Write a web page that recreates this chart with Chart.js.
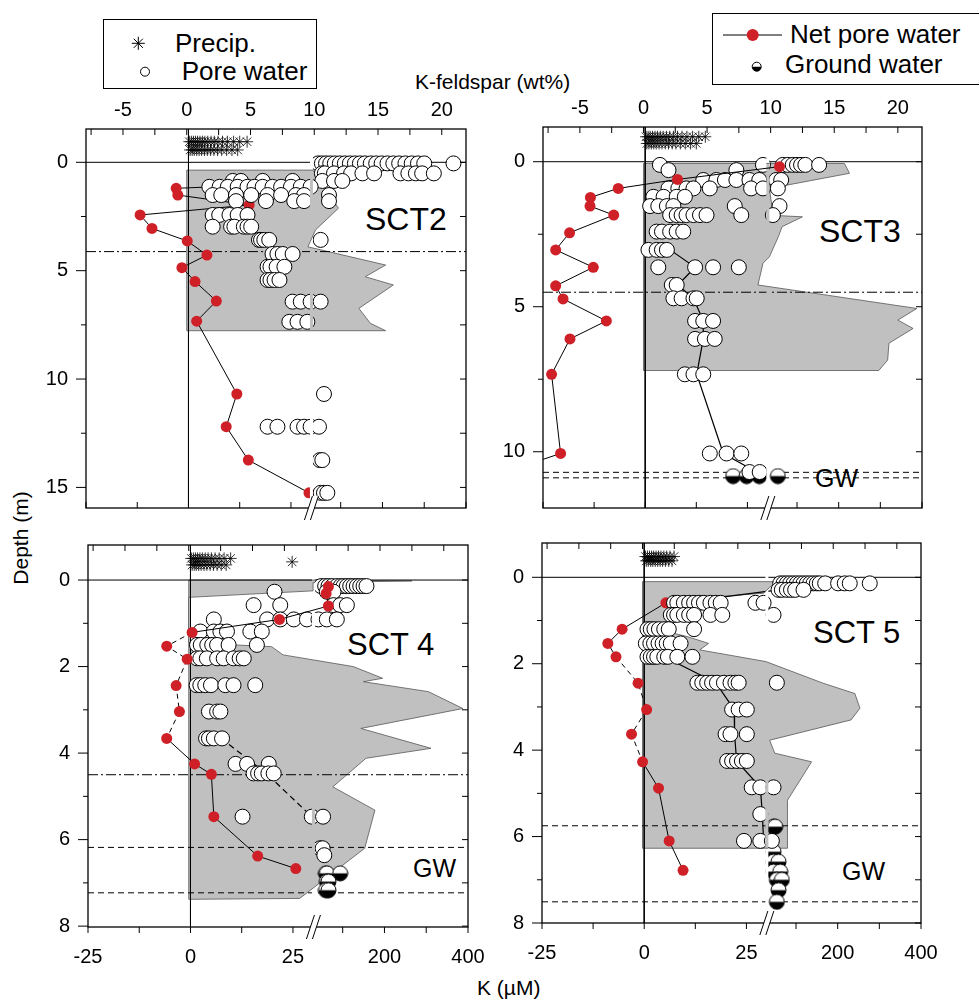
<!DOCTYPE html>
<html>
<head>
<meta charset="utf-8">
<script src="https://cdn.jsdelivr.net/npm/chart.js@4.4.1/dist/chart.umd.min.js"></script>
<style>
  html, body { margin: 0; padding: 0; background: #fff; }
  #fig { position: relative; width: 979px; height: 1000px; overflow: hidden;
         font-family: "Liberation Sans", Arial, sans-serif; color: #000; }
  #fig canvas { position: absolute; }
  .txt { position: absolute; white-space: nowrap; line-height: 1; }
  .box { position: absolute; border: 1.5px solid #000; box-sizing: border-box; }
  svg.mk { position: absolute; left: 0; top: 0; overflow: visible; }
</style>
</head>
<body>
<div id="fig">
  <!-- legends -->
  <div class="box" style="left:103px; top:19px; width:214px; height:70px;"></div>
  <div class="box" style="left:712px; top:13px; width:268px; height:72px;"></div>
  <svg class="mk" width="979" height="100">
    <g stroke="#000" stroke-width="1">
      <line x1="131.8" y1="43.3" x2="144.8" y2="43.3"/>
      <line x1="138.3" y1="36.8" x2="138.3" y2="49.8"/>
      <line x1="133.7" y1="38.7" x2="142.9" y2="47.9"/>
      <line x1="133.7" y1="47.9" x2="142.9" y2="38.7"/>
    </g>
    <circle cx="145" cy="71.7" r="4.5" fill="#fff" stroke="#000" stroke-width="1"/>
    <line x1="723" y1="35" x2="782" y2="35" stroke="#000" stroke-width="1"/>
    <circle cx="752.7" cy="35" r="6" fill="#cf2027"/>
    <circle cx="756.7" cy="66.7" r="4.5" fill="#fff" stroke="#000" stroke-width="1"/>
    <path d="M752.2 66.7 A4.5 4.5 0 0 0 761.2 66.7 Z" fill="#000"/>
  </svg>
  <div class="txt" style="left:175px; top:29.7px; font-size:26px;">Precip.</div>
  <div class="txt" style="left:181.7px; top:58px; font-size:26px;">Pore water</div>
  <div class="txt" style="left:790px; top:21.3px; font-size:26px;">Net pore water</div>
  <div class="txt" style="left:785px; top:51.3px; font-size:26px;">Ground water</div>

  <!-- axis titles -->
  <div class="txt" style="left:415px; top:71.2px; font-size:21px;">K-feldspar (wt%)</div>
  <div class="txt" style="left:477px; top:977.2px; font-size:21px;">K (µM)</div>
  <div class="txt" style="left:20px; top:538px; font-size:21px; transform:translate(-50%,-50%) rotate(-90deg);">Depth (m)</div>

  <!-- panel names -->
  <div class="txt" style="left:365px; top:203px; font-size:32px;">SCT2</div>
  <div class="txt" style="left:819px; top:214.6px; font-size:32px;">SCT3</div>
  <div class="txt" style="left:347px; top:628.8px; font-size:31px;">SCT 4</div>
  <div class="txt" style="left:813px; top:616.8px; font-size:31px;">SCT 5</div>
  <div class="txt" style="left:815px; top:465.5px; font-size:25px;">GW</div>
  <div class="txt" style="left:413px; top:855.5px; font-size:25px;">GW</div>
  <div class="txt" style="left:842px; top:858.8px; font-size:25px;">GW</div>
</div>
<script>
// ---------------- axis values ----------------
const kTicks = [-25, -12.5, 0, 12.5, 25, 100, 200, 300, 400];
const kTickLabels = ['-25', '', '0', '', '25', '', '200', '', '400'];
const wtTicks = [-7.5, -5, -2.5, 0, 2.5, 5, 7.5, 10, 12.5, 15, 17.5, 20];
const depthTicks2 = [0, 2.5, 5, 7.5, 10, 12.5, 15];
const depthTicks3 = [0, 2.5, 5, 7.5, 10];
const depthTicksShallow = [0, 1, 2, 3, 4, 5, 6, 7, 8];
const depthLabels2 = [0, 5, 10, 15];
const depthLabels3 = [0, 5, 10];
const depthLabelsShallow = [0, 2, 4, 6, 8];

// K axis is broken at 30 uM; above the break it is compressed up to 400 uM
const K_BREAK = 30, K_MAX = 400, U_PER_K_RIGHT = 0.1019;
const toU = k => (k <= K_BREAK ? k : K_BREAK + (k - K_BREAK) * U_PER_K_RIGHT);
const U_MAX = toU(K_MAX);

// ---------------- SCT2 ----------------
// [depth, K values]
const sct2Precip = [
  [-0.95, [0.2, 0.7, 1.2, 1.7, 2.2, 2.8, 3.4, 4.0, 4.7, 5.5, 6.3, 7.2, 8.3, 9.5, 11.0, 12.5, 14.3]],
  [-0.57, [0.4, 0.9, 1.4, 2.0, 2.6, 3.2, 3.9, 4.6, 5.4, 6.2, 7.1, 8.1, 9.3, 10.6, 12.0]]
];
const sct2Pore = [
  [0.05, [46, 55, 65, 75, 86, 98, 110, 122, 134, 146, 158, 172, 185, 198, 212, 226, 240, 255, 270, 285, 300, 370]],
  [0.51, [55, 62, 84, 108, 125, 152, 180, 243, 262, 280, 295, 323]],
  [0.86, [10.8, 12.8, 18.1, 25.4, 56, 84, 104]],
  [1.13, [5.1, 7.6, 9.6, 12, 14.4, 16.1, 18.1, 20.5, 22.6, 25, 27.4, 29.8]],
  [1.51, [5.9, 8, 11.6, 15.3, 19.3, 22.6, 26.2, 28.2, 72]],
  [1.79, [11.6, 18.9, 25.8, 28.2, 72]],
  [2.43, [5.9, 7.5, 10, 12, 14.4]],
  [2.97, [5.9, 10.4, 11.2, 13.5, 14.4, 15.3]],
  [3.58, [17.2, 17.7, 18.5, 19.7, 52]],
  [4.23, [20.5, 21.7, 23, 25.4]],
  [4.82, [19.3, 20, 21.5, 23.4]],
  [5.43, [19.3, 20, 21, 22.2]],
  [6.43, [25.4, 27.4, 29.8, 52]],
  [7.36, [24.6, 26.6, 29]],
  [10.69, [60]],
  [12.2, [19.3, 21.7, 26.6, 28.2, 29.8, 48]],
  [13.74, [50, 56]],
  [15.25, [52, 60, 68]]
];
const sct2Ground = [];
// [K, depth]
const sct2Net = [[6, 1.13], [-3, 1.2], [-2.6, 1.51], [14.8, 1.97], [-11.8, 2.43], [-8.9, 3.05], [-0.3, 3.63], [4.5, 4.28], [-1.6, 4.86], [1.6, 5.5], [6.8, 6.4], [2.0, 7.33], [11.8, 10.69], [9.2, 12.2], [14.6, 13.74], [29.4, 15.25]];
const sct2Mean = [];
// [wt%, depth]
const sct2Feldspar = [[0, 0.36], [9.9, 0.36], [11.9, 2.12], [10.1, 3.12], [9.5, 3.9], [15.6, 4.74], [14.0, 5.28], [16.2, 5.66], [13.5, 6.74], [14.4, 7.43], [15.6, 7.77], [0, 7.77]];
const sct2DashDot = [4.12];
const sct2Dashed = [];

// ---------------- SCT3 ----------------
const sct3Precip = [
  [-0.86, [0.2, 0.7, 1.2, 1.8, 2.4, 3.0, 3.7, 4.4, 5.2, 6.0, 6.9, 7.9, 9.0, 10.2, 11.6, 13.1, 14.7]],
  [-0.63, [0.4, 0.9, 1.5, 2.1, 2.7, 3.4, 4.1, 4.9, 5.7, 6.6, 7.5, 8.6, 9.8, 11.1, 12.5]]
];
const sct3Pore = [
  [0.11, [3.6, 28.8, 65.8, 78, 89.7, 100, 109.7, 120, 153]],
  [0.29, [5.7, 22.3]],
  [0.63, [14.2, 17.4, 19.5, 22.3, 25.5, 27.9, 50, 62]],
  [0.92, [5.7, 8.1, 10.1, 11.8, 15.8, 25.9, 28.8, 54]],
  [1.21, [2.0, 4.5, 7.7, 9.7]],
  [1.53, [1.2, 3.2, 5.3, 6.9, 21.9, 58]],
  [1.84, [6.1, 7.7, 8.9, 10.1, 11.8, 13.4, 15.0, 23.5, 42]],
  [2.41, [2.8, 4.1, 6.1, 7.7, 9.3]],
  [3.04, [0.8, 2.8, 4.1, 5.3]],
  [3.64, [3.2, 12.2, 16.6, 22.9]],
  [4.25, [6.5, 7.7]],
  [4.71, [6.9, 8.9, 11.8, 12.6]],
  [5.49, [12.2, 14.2, 16.6]],
  [6.11, [12.2, 14.6, 17.0]],
  [7.33, [9.7, 11.8, 14.2]],
  [10.06, [15.8, 19.9, 23.5]],
  [10.7, [25.5, 28]]
];
const sct3Ground = [[10.84, [21.5, 24.8, 27.9, 54]]];
const sct3Net = [[57.9, 0.17], [7.9, 0.61], [-6.6, 0.92], [-13.4, 1.23], [-13.5, 1.53], [-7.7, 1.84], [-18.5, 2.45], [-21.9, 3.04], [-12.7, 3.64], [-21.9, 4.28], [-20.1, 4.73], [-9.5, 5.49], [-18.4, 6.11], [-22.9, 7.33], [-20.7, 10.06], [-30, 10.5]];
const sct3Mean = [[[6.1, 3.04], [12.2, 3.64], [8, 4.25], [11.8, 4.71], [14.2, 5.49], [14.2, 6.11], [12.6, 7.33], [19.1, 10.06], [27.9, 10.75]]];
const sct3Feldspar = [[0, 0.06], [15.8, 0.06], [16.2, 0.4], [9.9, 0.92], [10.2, 1.85], [12.5, 1.9], [10.9, 2.24], [10.6, 2.59], [9.9, 3.28], [9.4, 3.5], [9.0, 4.25], [21.5, 5.06], [20.0, 5.46], [21.2, 5.75], [19.3, 6.26], [19.2, 6.84], [18.5, 7.2], [0, 7.2]];
const sct3DashDot = [4.5];
const sct3Dashed = [10.71, 10.9];

// ---------------- SCT4 ----------------
const sct4Precip = [
  [-0.5, [0.2, 0.7, 1.2, 1.7, 2.3, 2.9, 3.6, 4.3, 5.1, 6.0, 7.0, 8.2, 9.8]],
  [-0.42, [24.8]],
  [-0.35, [0.4, 0.9, 1.4, 2.0, 2.6, 3.3, 4.0, 4.8, 5.6, 6.5, 7.5, 8.7]]
];
const sct4Pore = [
  [0.14, [48, 58, 66, 75, 86, 95, 102, 110, 118, 126, 134, 142, 150, 157]],
  [0.27, [20.5, 62, 78]],
  [0.58, [15.4, 21.9, 78, 94, 110]],
  [0.91, [5.7, 18.7, 21.9, 25.2, 28.4, 42, 62, 86]],
  [1.19, [2.4, 5.7, 7.3, 8.9, 14.6, 17.4]],
  [1.5, [1.6, 2.5, 4.1, 5.3, 6.5, 9.3, 16.2]],
  [1.81, [1.6, 2.4, 4, 6.5, 8.1, 10.5, 12, 13]],
  [2.43, [1.5, 2.4, 3.6, 5, 8.5, 10.5, 15.8]],
  [3.04, [4.5, 6.5, 7.3]],
  [3.66, [3.8, 4.5, 5.7, 7.7]],
  [4.25, [11, 13.8, 19.1]],
  [4.47, [15.4, 16.5, 17.4, 19, 20.3]],
  [5.47, [12.7, 29.6, 53]],
  [6.2, [46, 52]],
  [6.36, [56]]
];
const sct4Ground = [[6.78, [60, 62, 94]], [6.97, [62, 66]], [7.17, [60, 66]]];
const sct4Net = [[65.8, 0.15], [60.3, 0.31], [65.8, 0.6], [21.7, 0.91], [0.4, 1.21], [-5.8, 1.53], [-0.8, 1.83], [-3.5, 2.44], [-2.7, 3.04], [-5.8, 3.66], [1.0, 4.25], [5.1, 4.49], [5.7, 5.47], [16.4, 6.38], [25.7, 6.67]];
const sct4Mean = [[[7.5, 3.66], [18.5, 4.47], [29.6, 5.47]]];
const sct4Feldspar = [[0, 0], [9.75, 0], [17.5, 0.02], [9.75, 0.06], [9.75, 0.25], [0, 0.4], [0, 1.45], [6.5, 1.54], [7.4, 1.73], [12.9, 2.0], [15.2, 2.27], [13.7, 2.35], [18.8, 2.58], [21.5, 2.97], [13.5, 3.43], [19.0, 3.89], [13.9, 4.12], [11.3, 4.78], [14.6, 5.32], [13.8, 6.2], [8.7, 7.36], [0, 7.38]];
const sct4DashDot = [4.5];
const sct4Dashed = [6.18, 7.23];

// ---------------- SCT5 ----------------
const sct5Precip = [
  [-0.48, [0.3, 0.8, 1.3, 1.8, 2.3, 2.9, 3.5, 4.1, 4.8, 5.5, 6.3, 7.3]],
  [-0.38, [0.5, 1.0, 1.6, 2.1, 2.7, 3.3, 3.9, 4.5, 5.2, 6.0, 6.8]]
];
const sct5Pore = [
  [0.14, [62, 70, 78, 86, 94, 102, 110, 118, 126, 134, 142, 150, 157, 170, 201, 217, 229, 277]],
  [0.29, [58, 66, 78, 88, 98, 118]],
  [0.59, [7.3, 8.1, 9.7, 11, 12.2, 13.4, 14.6, 16.2, 17.5, 18.7, 27.2, 29.2]],
  [0.87, [6.5, 7.3, 8.1, 9.7, 11, 12.2, 16.2, 19.1, 46]],
  [1.2, [0.8, 1.6, 2.5, 3.6, 4.9, 6, 12.2]],
  [1.53, [0.4, 1.5, 2.4, 3.5, 4.5, 5.5, 6.5, 8.9]],
  [1.84, [0.8, 1.6, 2.4, 3.2, 4.9, 5.8, 8.1, 11.8]],
  [2.44, [13, 14.2, 15.4, 16.6, 17.8, 19.5, 21.1, 22.3, 23.1, 54]],
  [3.06, [21.5, 23.1, 25.1]],
  [3.63, [19.9, 21.1, 25.1]],
  [4.25, [20.3, 21.5, 22.7, 23.9, 25.1]],
  [4.86, [26.3, 28.4, 46]],
  [5.48, [28.4]],
  [6.1, [24.4, 28.4, 42]]
];
const sct5Ground = [[5.77, [46, 50]], [6.35, [46]], [6.58, [46, 58]], [6.81, [46, 62]], [7.0, [54, 66]], [7.24, [58]], [7.51, [54]]];
const sct5Net = [[5.3, 0.59], [-5.4, 1.2], [-8.9, 1.53], [-6.9, 1.84], [-1.5, 2.45], [0.6, 3.06], [-3.1, 3.63], [-0.4, 4.27], [3.5, 4.88], [6.1, 6.1], [9.5, 6.78]];
const sct5Mean = [
  [[8.1, 0.59], [58, 0.29]],
  [[4.9, 1.84], [17.5, 2.44], [22, 3.06], [22.1, 3.63], [22.6, 4.25], [28.4, 4.86], [28.9, 5.48], [29.2, 6.1]]
];
const sct5Feldspar = [[0, 0.1], [10.5, 0.1], [9.5, 0.37], [2.0, 0.53], [2.5, 1.3], [3.5, 1.37], [5.2, 1.53], [4.5, 1.68], [9.7, 1.95], [14.2, 2.45], [16.7, 2.69], [17.1, 3.03], [16.4, 3.3], [10.0, 3.77], [10.4, 4.07], [13.3, 4.27], [11.4, 5.16], [11.4, 6.27], [0, 6.27]];
const sct5DashDot = [];
const sct5Dashed = [5.75, 7.51];

// ---------------- layout ----------------
const RED = '#cf2027';
const M = { l: 70, t: 50, r: 25, b: 50 };   // canvas margins around each plot
const panels = [
  { left: 86, top: 129, w: 380, h: 379, yMin: -1.537, yMax: 15.95, yTicks: depthTicks2, yLabels: depthLabels2,
    topLabels: true, bottomLabels: false, netOnTop: false, netDash: null, meanDash: false,
    precip: sct2Precip, pore: sct2Pore, ground: sct2Ground, net: sct2Net,
    mean: sct2Mean, feldspar: sct2Feldspar, dashDot: sct2DashDot, dashed: sct2Dashed },
  { left: 543, top: 127, w: 379, h: 381, yMin: -1.197, yMax: 11.94, yTicks: depthTicks3, yLabels: depthLabels3,
    topLabels: true, bottomLabels: false, netOnTop: true, netDash: null, meanDash: false,
    precip: sct3Precip, pore: sct3Pore, ground: sct3Ground, net: sct3Net,
    mean: sct3Mean, feldspar: sct3Feldspar, dashDot: sct3DashDot, dashed: sct3Dashed },
  { left: 88, top: 545, w: 380, h: 382, yMin: -0.81, yMax: 8.02, yTicks: depthTicksShallow, yLabels: depthLabelsShallow,
    topLabels: false, bottomLabels: true, netOnTop: true, netDash: [4, 8], meanDash: true,
    precip: sct4Precip, pore: sct4Pore, ground: sct4Ground, net: sct4Net,
    mean: sct4Mean, feldspar: sct4Feldspar, dashDot: sct4DashDot, dashed: sct4Dashed },
  { left: 542, top: 543, w: 379, h: 380, yMin: -0.794, yMax: 8.0, yTicks: depthTicksShallow, yLabels: depthLabelsShallow,
    topLabels: false, bottomLabels: true, netOnTop: false, netDash: [3, 6], meanDash: false,
    precip: sct5Precip, pore: sct5Pore, ground: sct5Ground, net: sct5Net,
    mean: sct5Mean, feldspar: sct5Feldspar, dashDot: sct5DashDot, dashed: sct5Dashed }
];

Chart.defaults.font.family = '"Liberation Sans", Arial, sans-serif';
Chart.defaults.font.size = 20;
Chart.defaults.color = '#000';

// half-filled marker for ground water
function halfDot(r) {
  const s = Math.ceil(r * 2 + 2);
  const c = document.createElement('canvas');
  c.width = c.height = s;
  const g = c.getContext('2d');
  const m = s / 2;
  g.beginPath(); g.arc(m, m, r, 0, Math.PI * 2); g.fillStyle = '#fff'; g.fill();
  g.beginPath(); g.arc(m, m, r, 0, Math.PI); g.closePath(); g.fillStyle = '#000'; g.fill();
  g.beginPath(); g.arc(m, m, r, 0, Math.PI * 2); g.lineWidth = 1; g.strokeStyle = '#000'; g.stroke();
  return c;
}
const gwMarker = halfDot(7.5);

const rowsToPoints = rows => rows.flatMap(([d, ks]) => ks.map(k => ({ x: toU(k), y: d })));
const pairs = arr => arr.map(([k, d]) => ({ x: toU(k), y: d }));

const layers = {
  id: 'layers',
  beforeDatasetDraw(chart, args) {
    const ds = chart.data.datasets[args.index];
    if (!ds.feldspar) return;
    // grey K-feldspar profile goes underneath everything already drawn
    const { ctx, chartArea: a } = chart;
    const pts = args.meta.data;
    ctx.save();
    ctx.beginPath(); ctx.rect(a.left, a.top, a.width, a.height); ctx.clip();
    ctx.globalCompositeOperation = 'destination-over';
    ctx.beginPath();
    pts.forEach((p, i) => (i ? ctx.lineTo(p.x, p.y) : ctx.moveTo(p.x, p.y)));
    ctx.closePath();
    ctx.lineWidth = 0.8; ctx.strokeStyle = '#555'; ctx.stroke();
    ctx.fillStyle = '#c0c0c0'; ctx.fill();
    ctx.restore();
    return false;
  },
  afterDatasetDraw(chart, args) {
    const ds = chart.data.datasets[args.index];
    if (!ds.cutAtBreak) return;
    const { ctx, chartArea: a } = chart;
    const xb = chart.scales.x.getPixelForValue(K_BREAK);
    ctx.save();
    ctx.globalCompositeOperation = 'destination-out';
    ctx.fillRect(xb - 1.5, a.top, 3, a.height);
    ctx.restore();
  },
  afterDraw(chart, args, opts) {
    const { ctx, chartArea: a, scales } = chart;
    ctx.save();
    ctx.strokeStyle = '#000';
    ctx.lineWidth = 1;
    const seg = (x1, y1, x2, y2) => { ctx.beginPath(); ctx.moveTo(x1, y1); ctx.lineTo(x2, y2); ctx.stroke(); };
    scales.y.ticks.forEach(t => {
      const y = scales.y.getPixelForValue(t.value);
      seg(a.left - (t.label ? 10 : 5), y, a.left, y);
      seg(a.right - 6, y, a.right, y);
    });
    scales.wt.ticks.forEach(t => {
      const x = scales.wt.getPixelForValue(t.value);
      seg(x, a.top, x, a.top + 6);
    });
    scales.x.ticks.forEach(t => {
      const x = scales.x.getPixelForValue(t.value);
      if (opts.bottomOut) seg(x, a.bottom, x, a.bottom + 6);
      else seg(x, a.bottom - 6, x, a.bottom);
    });
    ctx.lineWidth = 1.3;
    ctx.strokeRect(a.left, a.top, a.width, a.height);
    // axis break mark
    const xb = scales.x.getPixelForValue(K_BREAK), yb = a.bottom;
    ctx.fillStyle = '#fff';
    ctx.beginPath();
    ctx.moveTo(xb - 7, yb + 12); ctx.lineTo(xb - 1, yb + 12);
    ctx.lineTo(xb + 7, yb - 12); ctx.lineTo(xb + 1, yb - 12);
    ctx.closePath(); ctx.fill();
    ctx.lineWidth = 1;
    seg(xb - 7, yb + 12, xb + 1, yb - 12);
    seg(xb - 1, yb + 12, xb + 7, yb - 12);
    ctx.restore();
  }
};

const fig = document.getElementById('fig');

panels.forEach(p => {
  const cv = document.createElement('canvas');
  const w = p.w + M.l + M.r, h = p.h + M.t + M.b;
  cv.width = w; cv.height = h;
  cv.style.left = (p.left - M.l) + 'px';
  cv.style.top = (p.top - M.t) + 'px';
  cv.style.width = w + 'px';
  cv.style.height = h + 'px';
  fig.appendChild(cv);

  const base = { xAxisID: 'x', yAxisID: 'y' };
  const datasets = [];
  const ref = (pts, dash) => datasets.push({ ...base, data: pts, showLine: true, pointRadius: 0,
    borderColor: '#000', borderWidth: 1, borderDash: dash || [], order: 10, clip: 0 });

  ref([{ x: -25, y: 0 }, { x: U_MAX, y: 0 }]);
  p.dashDot.forEach(d => ref([{ x: -25, y: d }, { x: U_MAX, y: d }], [10, 3, 2, 3]));
  p.dashed.forEach(d => ref([{ x: -25, y: d }, { x: U_MAX, y: d }], [6, 4]));
  ref([{ x: 0, y: p.yMin }, { x: 0, y: p.yMax }]);

  p.mean.forEach(m => datasets.push({ ...base, data: pairs(m), showLine: true, pointRadius: 0,
    borderColor: '#000', borderWidth: 1.2, borderDash: p.meanDash ? [6, 4] : [], order: 9, clip: 0 }));

  datasets.push({ ...base, label: 'Net pore water', data: pairs(p.net), showLine: true,
    borderColor: '#000', borderWidth: 1, pointRadius: 5.5, pointBackgroundColor: RED, pointBorderWidth: 0,
    order: p.netOnTop ? 2 : 8, clip: 0,
    segment: { borderDash: c => (p.netDash && c.p0DataIndex >= p.netDash[0] && c.p0DataIndex <= p.netDash[1]) ? [5, 4] : undefined } });

  datasets.push({ ...base, label: 'Ground water', data: rowsToPoints(p.ground), pointStyle: gwMarker,
    pointRadius: 7.5, order: 7, clip: 10 });

  datasets.push({ ...base, label: 'Pore water', data: rowsToPoints(p.pore), pointStyle: 'circle', pointRadius: 7.5,
    pointBackgroundColor: '#fff', pointBorderColor: '#000', pointBorderWidth: 1, order: 6, clip: 10, cutAtBreak: true });

  datasets.push({ xAxisID: 'wt', yAxisID: 'y', label: 'K-feldspar', data: p.feldspar.map(([x, y]) => ({ x, y })),
    pointRadius: 0, showLine: false, order: 5, feldspar: true });

  datasets.push({ ...base, label: 'Precip.', data: rowsToPoints(p.precip),
    pointStyle: 'star', pointRadius: 6, pointBorderColor: '#000', pointBorderWidth: 0.8, order: 1, clip: 10 });

  new Chart(cv, {
    type: 'scatter',
    data: { datasets },
    options: {
      responsive: false,
      animation: false,
      devicePixelRatio: 1,
      events: [],
      layout: { padding: { left: 0, top: 0, right: M.r, bottom: 0 } },
      plugins: { legend: { display: false }, tooltip: { enabled: false }, layers: { bottomOut: p.bottomLabels } },
      scales: {
        x: {
          type: 'linear', axis: 'x', position: 'bottom', min: -25, max: U_MAX,
          grid: { display: false, drawTicks: false }, border: { display: false },
          ticks: { display: p.bottomLabels, padding: 18, maxRotation: 0, autoSkip: false,
                   callback: (v, i) => kTickLabels[i] },
          afterBuildTicks: s => { s.ticks = kTicks.map(k => ({ value: toU(k) })); },
          afterFit: s => { s.height = M.b; s.paddingLeft = 0; s.paddingRight = 0; }
        },
        wt: {
          type: 'linear', axis: 'x', position: 'top', min: -7.9, max: 21.9,
          grid: { display: false, drawTicks: false }, border: { display: false },
          ticks: { display: p.topLabels, padding: 6.5, maxRotation: 0, autoSkip: false,
                   callback: v => (v % 5 === 0 ? String(v) : '') },
          afterBuildTicks: s => { s.ticks = wtTicks.map(v => ({ value: v })); },
          afterFit: s => { s.height = M.t; s.paddingLeft = 0; s.paddingRight = 0; }
        },
        y: {
          type: 'linear', axis: 'y', position: 'left', reverse: true, min: p.yMin, max: p.yMax,
          grid: { display: false, drawTicks: false }, border: { display: false },
          ticks: { padding: 18, autoSkip: false, callback: v => (p.yLabels.includes(v) ? String(v) : '') },
          afterBuildTicks: s => { s.ticks = p.yTicks.map(v => ({ value: v })); },
          afterFit: s => { s.width = M.l; s.paddingTop = 0; s.paddingBottom = 0; }
        }
      }
    },
    plugins: [layers]
  });
});
</script>
</body>
</html>
